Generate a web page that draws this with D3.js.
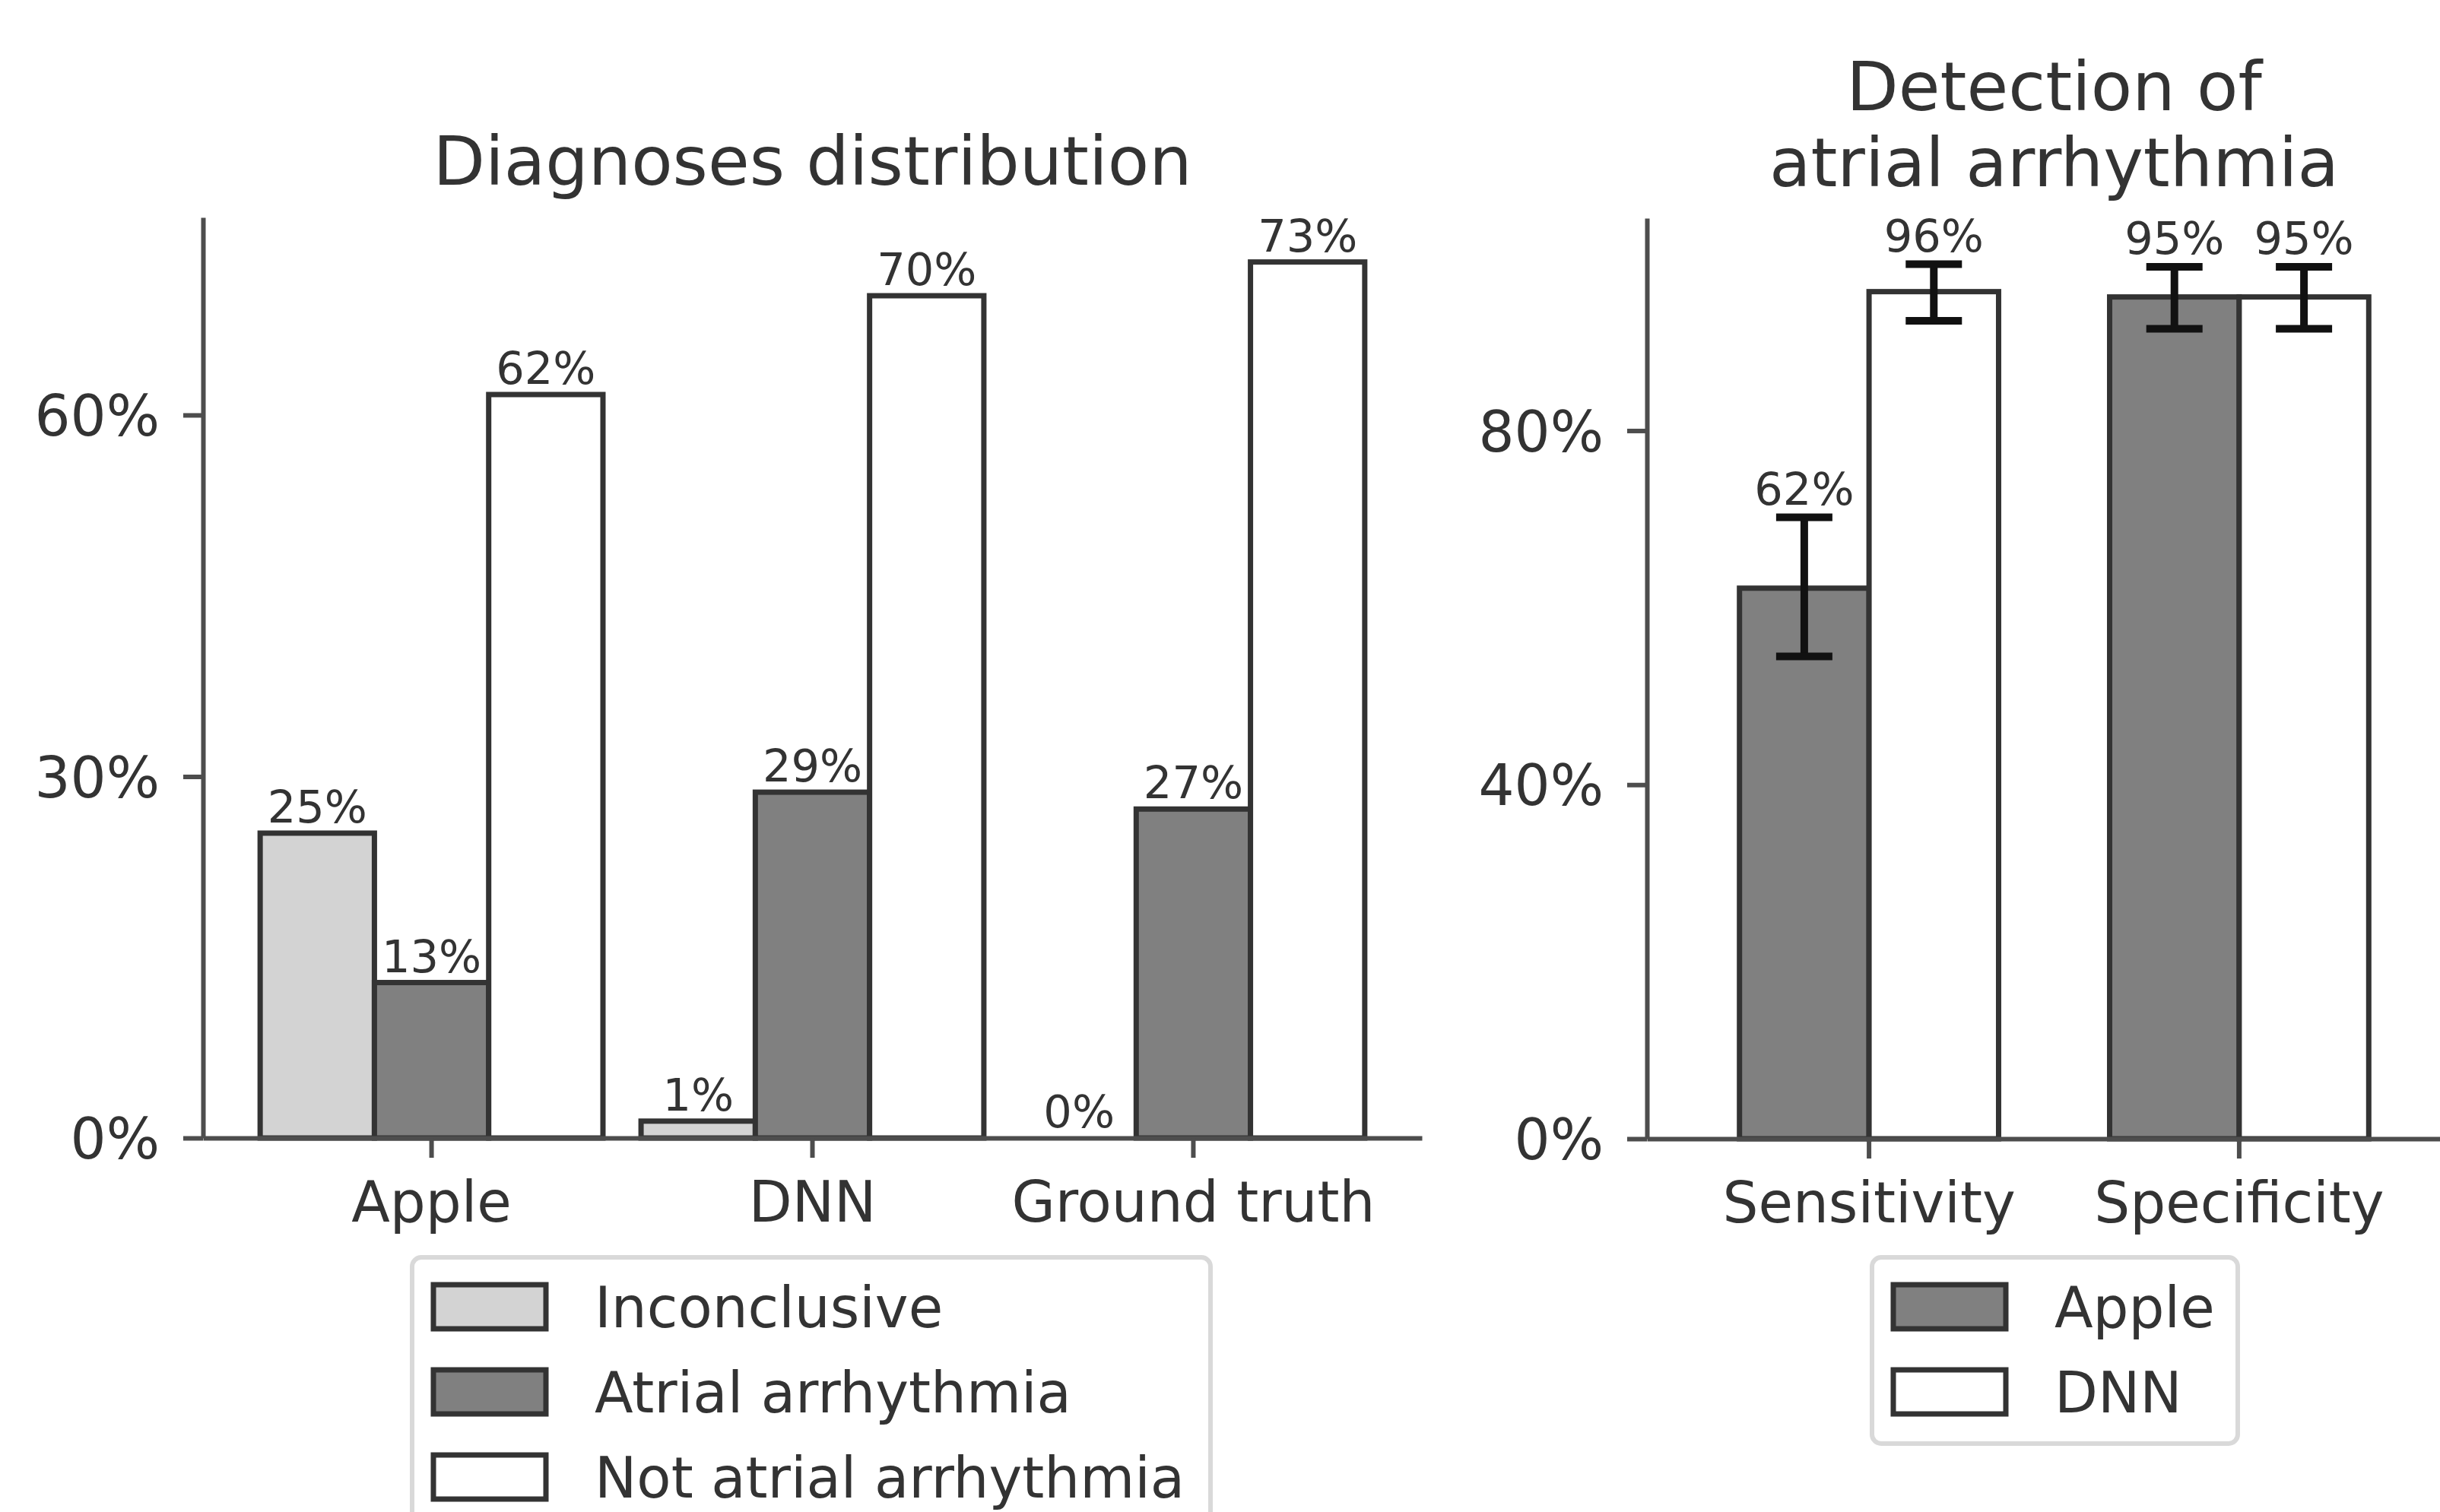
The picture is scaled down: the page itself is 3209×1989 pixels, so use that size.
<!DOCTYPE html>
<html>
<head>
<meta charset="utf-8">
<script src="https://cdn.jsdelivr.net/npm/d3@7"></script>
<style>
  body { margin: 0; background: #fff; }
  text { font-family: "DejaVu Sans", sans-serif; fill: #333; }
</style>
</head>
<body>
<svg id="chart" width="3209" height="1989"></svg>
<script>
// left panel data (percent of recordings)
const groups = ["Apple", "DNN", "Ground truth"];
const classes = ["Inconclusive", "Atrial arrhythmia", "Not atrial arrhythmia"];
const inconclusive = [25.3, 1.4, 0];
const atrial = [12.9, 28.7, 27.3];
const notAtrial = [61.7, 69.9, 72.7];
const leftTicks = [0, 30, 60];

// right panel data (percent, with confidence interval)
const metrics = ["Sensitivity", "Specificity"];
const models = ["Apple", "DNN"];
const appleScore = [62.2, 95.1];
const appleLow = [54.5, 91.5];
const appleHigh = [70.2, 98.5];
const dnnScore = [95.7, 95.1];
const dnnLow = [92.4, 91.5];
const dnnHigh = [98.8, 98.5];
const rightTicks = [0, 40, 80];

const svg = d3.select('#chart');
svg.append('rect').attr('width', 3209).attr('height', 1989).attr('fill', '#fff');

const EDGE = '#333';
const SPINE = '#4d4d4d';
const pct = v => Math.round(v) + '%';

function drawAxes(g, x, y, ticks) {
    const ax = g.append('g')
        .attr('transform', `translate(0,${y.range()[0]})`)
        .call(d3.axisBottom(x).tickSize(26).tickSizeOuter(0).tickPadding(31));
    const ay = g.append('g')
        .attr('transform', `translate(${x.range()[0]},0)`)
        .call(d3.axisLeft(y).tickValues(ticks).tickFormat(d => d + '%')
            .tickSize(26).tickSizeOuter(0).tickPadding(31));
    [ax, ay].forEach(a => {
        a.select('.domain').attr('stroke', SPINE).attr('stroke-width', 6);
        a.selectAll('.tick line').attr('stroke', SPINE).attr('stroke-width', 6);
        a.selectAll('.tick text').attr('font-size', 74).attr('fill', '#333')
            .attr('font-family', '"DejaVu Sans", sans-serif');
    });
    ay.selectAll('.tick text').attr('dy', '0.36em');
}

function legend(g, x0, y0, w, h, items) {
    g.append('rect')
        .attr('x', x0).attr('y', y0).attr('width', w).attr('height', h)
        .attr('rx', 12).attr('fill', '#fff').attr('fill-opacity', 0.8)
        .attr('stroke', '#d9d9d9').attr('stroke-width', 6);
    items.forEach((it, i) => {
        const cy = y0 + 65 + i * 112;
        g.append('rect')
            .attr('x', x0 + 28).attr('y', cy - 29).attr('width', 148).attr('height', 58)
            .attr('fill', it.color).attr('stroke', EDGE).attr('stroke-width', 7);
        g.append('text')
            .attr('x', x0 + 240).attr('y', cy + 27)
            .attr('font-size', 74).text(it.name);
    });
}

// ---------- left: Diagnoses distribution ----------
const left = svg.append('g');
const xL = d3.scaleBand().domain(groups).range([267, 1870]).paddingInner(0).paddingOuter(0.1);
const xL1 = d3.scaleBand().domain(classes).range([0, xL.bandwidth()]).paddingInner(0).paddingOuter(1 / 6);
const yL = d3.scaleLinear().domain([0, 76.4]).range([1497, 286]);
const colorL = d3.scaleOrdinal().domain(classes).range(['#d3d3d3', '#808080', '#ffffff']);

const leftRows = [];
groups.forEach((grp, i) => {
    [inconclusive, atrial, notAtrial].forEach((arr, j) => {
        leftRows.push({ grp, cls: classes[j], v: arr[i] });
    });
});

left.selectAll('rect.bar').data(leftRows).join('rect')
    .attr('class', 'bar')
    .attr('x', d => xL(d.grp) + xL1(d.cls))
    .attr('width', xL1.bandwidth())
    .attr('y', d => yL(d.v))
    .attr('height', d => yL(0) - yL(d.v))
    .attr('fill', d => colorL(d.cls))
    .attr('stroke', EDGE).attr('stroke-width', 7);

left.selectAll('text.val').data(leftRows).join('text')
    .attr('class', 'val')
    .attr('x', d => xL(d.grp) + xL1(d.cls) + xL1.bandwidth() / 2)
    .attr('y', d => yL(d.v) - 14)
    .attr('text-anchor', 'middle')
    .attr('font-size', 59)
    .text(d => pct(d.v));

drawAxes(left, xL, yL, leftTicks);

left.append('text')
    .attr('x', (xL.range()[0] + xL.range()[1]) / 2).attr('y', 243)
    .attr('text-anchor', 'middle').attr('font-size', 89)
    .text('Diagnoses distribution');

legend(left, 542, 1654, 1050, 360,
    classes.map(c => ({ name: c, color: colorL(c) })));

// ---------- right: Detection of atrial arrhythmia ----------
const right = svg.append('g');
const xR = d3.scaleBand().domain(metrics).range([2166, 3237]).paddingInner(0).paddingOuter(0.1);
const xR1 = d3.scaleBand().domain(models).range([0, xR.bandwidth()]).paddingInner(0).paddingOuter(3 / 7);
const yR = d3.scaleLinear().domain([0, 104]).range([1498, 287]);
const colorR = d3.scaleOrdinal().domain(models).range(['#808080', '#ffffff']);

const rightRows = [];
metrics.forEach((m, i) => {
    rightRows.push({ m, model: 'Apple', v: appleScore[i], lo: appleLow[i], hi: appleHigh[i] });
    rightRows.push({ m, model: 'DNN', v: dnnScore[i], lo: dnnLow[i], hi: dnnHigh[i] });
});
const cx = d => xR(d.m) + xR1(d.model) + xR1.bandwidth() / 2;

right.selectAll('rect.bar').data(rightRows).join('rect')
    .attr('class', 'bar')
    .attr('x', d => xR(d.m) + xR1(d.model))
    .attr('width', xR1.bandwidth())
    .attr('y', d => yR(d.v))
    .attr('height', d => yR(0) - yR(d.v))
    .attr('fill', d => colorR(d.model))
    .attr('stroke', EDGE).attr('stroke-width', 7);

const err = right.selectAll('g.err').data(rightRows).join('g').attr('class', 'err')
    .attr('stroke', '#111').attr('stroke-width', 10);
err.append('line')
    .attr('x1', cx).attr('x2', cx)
    .attr('y1', d => yR(d.lo)).attr('y2', d => yR(d.hi));
err.append('line')
    .attr('x1', d => cx(d) - 37).attr('x2', d => cx(d) + 37)
    .attr('y1', d => yR(d.lo)).attr('y2', d => yR(d.lo));
err.append('line')
    .attr('x1', d => cx(d) - 37).attr('x2', d => cx(d) + 37)
    .attr('y1', d => yR(d.hi)).attr('y2', d => yR(d.hi));

right.selectAll('text.val').data(rightRows).join('text')
    .attr('class', 'val')
    .attr('x', cx)
    .attr('y', d => yR(d.hi) - 17)
    .attr('text-anchor', 'middle')
    .attr('font-size', 59)
    .text(d => pct(d.v));

drawAxes(right, xR, yR, rightTicks);

const rTitle = ['Detection of', 'atrial arrhythmia'];
right.selectAll('text.title').data(rTitle).join('text')
    .attr('class', 'title')
    .attr('x', (xR.range()[0] + xR.range()[1]) / 2)
    .attr('y', (d, i) => 145 + i * 100)
    .attr('text-anchor', 'middle').attr('font-size', 89)
    .text(d => d);

legend(right, 2462, 1654, 481, 245,
    models.map(m => ({ name: m, color: colorR(m) })));
</script>
</body>
</html>
